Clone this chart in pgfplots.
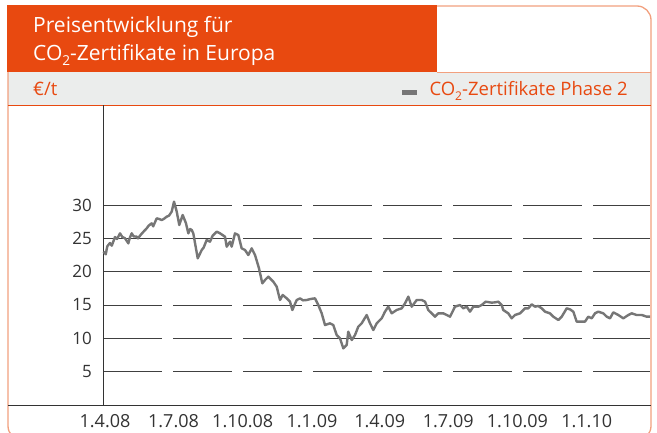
\documentclass[border=0pt]{standalone}
\usepackage{fontspec}
\setmainfont{Open Sans}
\usepackage{pgfplots}
\pgfplotsset{compat=1.18}
\definecolor{korange}{HTML}{E84910}
\definecolor{kborder}{HTML}{F2A07E}
\definecolor{kband}{HTML}{EBEDEC}
\definecolor{kline}{HTML}{767676}
\definecolor{kgrid}{HTML}{404040}
\definecolor{ktext}{HTML}{333333}
\newcommand{\sub}[1]{\raisebox{-0.28em}{\fontsize{0.65em}{0.7em}\selectfont #1}}
\begin{document}
\begin{tikzpicture}[x=1bp,y=1bp]
\useasboundingbox (0,0) rectangle (657,432);
\fill[white] (0,0) rectangle (657,432);
\fill[kband] (8,327) rectangle (651,360);
\draw[kborder, line width=1.3bp, rounded corners=14bp] (8,-8) rectangle (651,426);
\draw[kborder, line width=0.8bp] (437,360) -- (651,360);
\fill[korange] (7.35,360) rectangle (437,426.65);
\draw[korange, line width=1bp] (8,327) -- (651,327);
\node[anchor=base west, text=white, font=\fontsize{21bp}{25bp}\selectfont, inner sep=0pt] at (33,399) {Preisentwicklung für};
\node[anchor=base west, text=white, font=\fontsize{21bp}{25bp}\selectfont, inner sep=0pt] at (33,372) {CO\sub{2}-Zertifikate in Europa};
\node[anchor=base west, text=korange, font=\fontsize{18.5bp}{22bp}\selectfont, inner sep=0pt] at (33,337) {€/t};
\node[anchor=base east, text=korange, font=\fontsize{18.5bp}{22bp}\selectfont, inner sep=0pt] at (628,337) {CO\sub{2}-Zertifikate Phase 2};
\fill[kline] (402,337) rectangle (417,342);
\begin{axis}[
  anchor=south west, at={(103.3bp,27bp)},
  scale only axis, width=546.7bp, height=300bp,
  xmin=-2.26, xmax=724.1, ymin=0, ymax=45,
  axis lines=left,
  axis line style={-, draw=ktext, line width=0.8bp},
  x axis line style={draw=none},
  major tick length=0pt,
  ytick={5,10,15,20,25,30},
  xtick={0,91,183,275,365,456,548,640},
  xticklabels={1.4.08,1.7.08,1.10.08,1.1.09,1.4.09,1.7.09,1.10.09,1.1.10},
  /pgf/number format/assume math mode=true,
  yticklabel style={font=\fontsize{17bp}{20bp}\selectfont, text=ktext, inner sep=0pt, anchor=east, xshift=-11.3bp},
  xticklabel style={font=\fontsize{18bp}{21bp}\selectfont, text=ktext, inner sep=0pt, anchor=north, yshift=-9bp},
  ymajorgrids,
  major grid style={draw=kgrid, line width=0.9bp, dash pattern=on 58.3bp off 11.7bp},
  clip=false,
]
\addplot[kline, line width=2.4bp, line join=round] coordinates {
(-2,23.0)(1,22.6)(3,23.8)(6.6,24.3)(9,23.9)(13.3,25.2)(16,24.9)(19.9,25.75)(23,25.2)(26.6,25.0)(31.0,24.25)(33,25.1)(35.5,25.75)(38,25.3)(42.1,25.25)(43.8,25.0)
(48,25.6)(52,26.1)(55.4,26.5)(58,26.9)(62.0,27.25)(64,26.8)(68.7,28.0)(72,27.9)(75.3,27.75)(78,27.9)(82.0,28.25)(85,28.4)(88.6,29.0)(91.7,30.5)(95.3,29.0)(98.7,27.0)
(103.2,28.5)(107.6,27.25)(110.7,25.75)(113,26.4)(115.2,26.25)(117.3,25.75)(123.2,22.0)(128.5,23.25)(131,23.6)(135.1,24.75)
(139.5,24.5)(143,25.4)(148.4,26.0)(152.8,25.75)(159.4,25.25)(161.7,23.75)(166.1,24.5)(168.3,23.75)(172.7,25.75)
(177.1,25.5)(181.6,23.5)(186.0,23.25)(190.4,22.5)(194.9,23.5)(199.3,22.5)(204.6,20.5)(209.0,18.25)
(212.6,18.75)(217.0,19.25)(223.6,18.5)(228.1,17.75)(232.5,15.75)(236.1,16.5)(241.4,16.0)(245.8,15.5)
(248.9,14.25)(254.7,15.75)(259.1,16.0)(263,15.7)(268.0,15.75)(273,15.9)(279.0,16.0)(283.4,15.0)(287.9,13.75)(292.3,12.0)
(298.9,12.25)(303.3,12.0)(307.8,10.5)(312.2,10.0)(316.6,8.5)(321.1,9.0)(323.2,11.0)(327.8,9.75)
(332.2,10.5)(336.5,11.75)(341.0,12.25)(347.7,13.5)(352.1,12.25)(356.5,11.25)(361.0,12.25)(367.6,13.0)
(372.0,14.0)(376.4,14.75)(380.9,13.75)(387.5,14.25)(394.2,14.5)(398.6,15.25)(403.0,16.25)(407.5,14.75)
(414.1,15.75)(420.8,15.75)(425.2,15.5)(429.5,14.25)(434.0,13.75)(438.4,13.25)(442.8,13.75)(449.5,13.75)
(454.0,13.5)(458.4,13.25)(465.0,14.75)(471.7,15.0)(476.0,14.5)(480.6,14.75)(484.9,14.0)(489.3,14.75)
(496.0,14.75)(500.5,15.0)(505.8,15.5)(513.8,15.35)(518.2,15.4)(522.5,15.5)(527.0,15.0)(529.1,14.25)
(535.8,13.75)(540.3,13.0)(544.7,13.5)(551.4,13.75)(558.0,14.5)(562.4,14.5)(566.9,15.1)(571.3,14.75)
(575.7,14.85)(580.2,14.5)(584.6,14.0)(591.2,13.75)(595.6,13.25)(602.3,12.75)(606.8,13.25)(613.4,14.5)
(617.8,14.35)(622.2,14.0)(626.7,12.5)(631.1,12.5)(637.7,12.5)(642.1,13.25)(646.6,13.0)(651.0,13.75)
(655.4,14.0)(662.0,13.75)(666.6,13.25)(671.0,13.0)(675.3,13.9)(682.0,13.5)(688.6,13.0)(695.3,13.5)
(699.8,13.75)(706.4,13.5)(713.1,13.5)(719.7,13.25)(724.1,13.25)
};
\end{axis}
\draw[ktext, line width=0.8bp] (8,27) -- (651,27);
\end{tikzpicture}
\end{document}
